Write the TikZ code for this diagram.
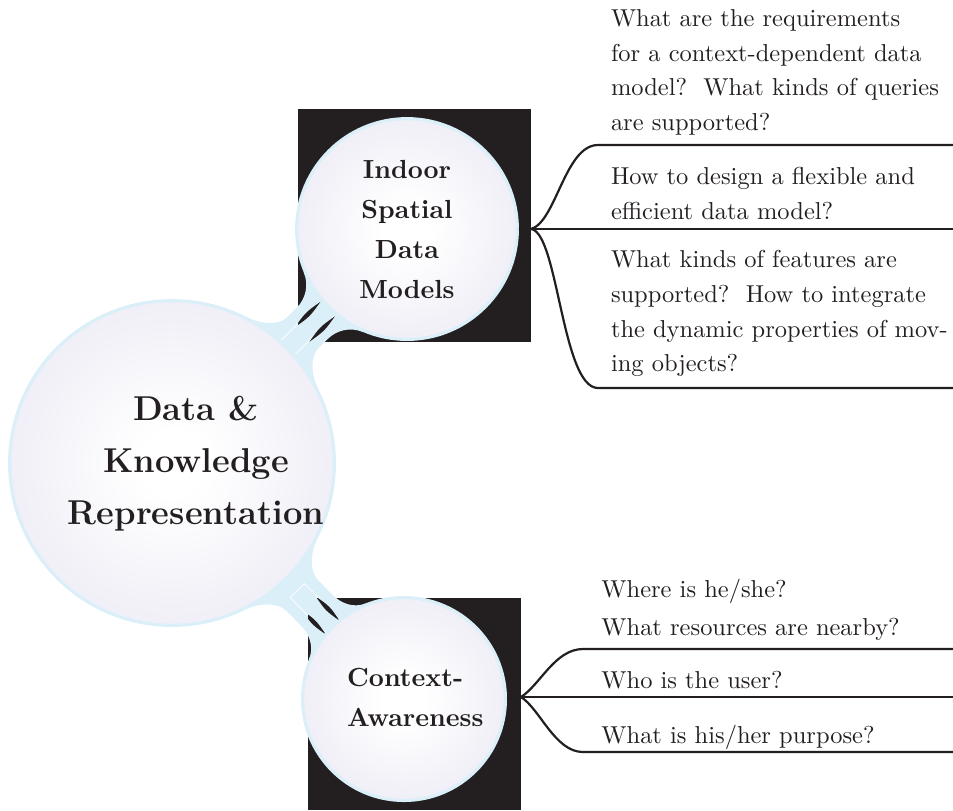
\documentclass[tikz,border=0pt]{standalone}
\definecolor{ink}{RGB}{35,31,32}
\definecolor{lav}{RGB}{226,223,239}
\definecolor{lblue}{RGB}{219,239,249}
\pgfdeclareradialshading{conceptshade}{\pgfpoint{0bp}{0bp}}{color(0bp)=(white); color(5bp)=(white); color(44bp)=(lav); color(50bp)=(lav)}
\begin{document}
\begin{tikzpicture}[x=0.4087pt,y=-0.4087pt,
  concept/.style={circle, draw=lblue, line width=1.3pt, shading=conceptshade, inner sep=0pt},
  blackbox/.style={fill=ink},
  branch/.style={draw=ink, line width=0.9pt},
  band/.style={fill=lblue},
  seam/.style={draw=white, line width=0.3pt},
  gapline/.style={fill=ink},
  qtext/.style={anchor=base west, inner sep=0pt, text=ink, font=\fontsize{10}{14.2}\selectfont},
  ctext/.style={inner sep=0pt, text=ink},
]
\useasboundingbox (0,0) rectangle (953,810);
% black boxes behind the child concepts
\fill[blackbox] (298,109) rectangle (531,342);
\fill[blackbox] (308,598) rectangle (521,810);
% centres
\coordinate (rc) at (172,463);
\coordinate (ic) at (407,229);
\coordinate (cc) at (404,699);
% connection band root -> indoor
\begin{scope}[shift={(rc)}, rotate=44.88]
  \fill[band] (156.2,-50) .. controls (160.5,-36.7) and (172,-22) .. (185,-22) -- (198,-22)
    .. controls (210,-22) and (222.5,-29) .. (227.8,-42) -- (227.8,42)
    .. controls (222.5,29) and (210,22) .. (198,22) -- (185,22)
    .. controls (172,22) and (160.5,36.7) .. (156.2,50) -- cycle;
  \draw[seam] (164,-10) -- (219,-10) (164,10) -- (219,10);
\end{scope}
% connection band root -> context
\begin{scope}[shift={(rc)}, rotate=-45.49]
  \fill[band] (156.2,-50) .. controls (160.5,-36.7) and (173,-22) .. (186,-22) -- (206,-22)
    .. controls (218,-22) and (230.7,-27.1) .. (236.1,-40) -- (236.1,40)
    .. controls (230.7,27.1) and (218,22) .. (206,22) -- (186,22)
    .. controls (173,22) and (160.5,36.7) .. (156.2,50) -- cycle;
  \draw[seam] (179,-10) -- (229,-10) -- (229,10) -- (179,10) -- cycle;
\end{scope}
% dark slivers inside the boxes
\begin{scope}
  \clip (298,109) rectangle (531,342);
  \begin{scope}[shift={(rc)}, rotate=44.88]
    \fill[gapline] (183,-9.5) .. controls (201,-12.5) .. (219,-9.5) .. controls (201,-6.5) .. (183,-9.5);
    \fill[gapline] (183,11) .. controls (201,14) .. (219,11) .. controls (201,8) .. (183,11);
  \end{scope}
\end{scope}
\begin{scope}
  \clip (308,598) rectangle (521,810);
  \begin{scope}[shift={(rc)}, rotate=-45.49]
    \fill[gapline] (196,-9) .. controls (213,-12) .. (230,-9) .. controls (213,-6) .. (196,-9);
    \fill[gapline] (196,10.5) .. controls (213,13.5) .. (230,10.5) .. controls (213,7.5) .. (196,10.5);
  \end{scope}
\end{scope}
% concepts
\node[concept, minimum size=132.7pt] (root) at (rc) {};
\node[concept, minimum size=90.2pt] (ind) at (ic) {};
\node[concept, minimum size=82.9pt] (ctx) at (cc) {};
\node[ctext, anchor=base, font=\fontsize{14.1}{21.3}\selectfont\bfseries] (roott) at (196,420.7)
  {\parbox[t]{140pt}{\centering Data \&\\ Knowledge\\ Representation}};
\node[ctext, anchor=base, font=\fontsize{10.7}{16.4}\selectfont\bfseries] (indt) at (407,178.3)
  {\parbox[t]{70pt}{\centering Indoor\\ Spatial\\ Data\\ Models}};
\node[ctext, anchor=base west, font=\fontsize{10.7}{16.6}\selectfont\bfseries] (ctxt) at (346.7,686)
  {\parbox[t]{70pt}{\raggedright Context-\\ Awareness}};
% branches of Indoor Spatial Data Models
\coordinate (jI) at (531,229);
\coordinate (t1) at (598,145); \coordinate (e1) at (953,145);
\coordinate (e2) at (953,229);
\coordinate (t3) at (598,388); \coordinate (e3) at (953,388);
\draw[branch] (ind.east) -- (jI) .. controls (556,222) and (565,145) .. (t1) -- (e1);
\draw[branch] (jI) -- (e2);
\draw[branch] (jI) .. controls (558,232) and (562,388) .. (t3) -- (e3);
\node[qtext] (q1) at (610.5,26.5) {\parbox[t]{150pt}{\raggedright What are the requirements\\ for a context-dependent data\\ model?\ \ What kinds of queries\\ are supported?}};
\node[qtext] (q2) at (610.5,184.3) {\parbox[t]{150pt}{\raggedright How to design a flexible and\\ efficient data model?}};
\node[qtext] (q3) at (610.5,267.7) {\parbox[t]{150pt}{\raggedright What kinds of features are\\ supported?\ \ How to integrate\\ the dynamic properties of mov-\\ ing objects?}};
% branches of Context-Awareness
\coordinate (jC) at (521,697);
\coordinate (u1) at (583,649); \coordinate (f1) at (953,649);
\coordinate (f2) at (953,697);
\coordinate (u3) at (583,752); \coordinate (f3) at (953,752);
\draw[branch] (ctx.east) -- (jC) .. controls (540,685) and (555,649) .. (u1) -- (f1);
\draw[branch] (jC) -- (f2);
\draw[branch] (jC) .. controls (540,709) and (555,752) .. (u3) -- (f3);
\node[qtext, font=\fontsize{10}{15.25}\selectfont] (q4) at (601,597.7) {\parbox[t]{150pt}{\raggedright Where is he/she?\\ What resources are nearby?}};
\node[qtext] (q5) at (601,688.3) {Who is the user?};
\node[qtext] (q6) at (601,743.3) {What is his/her purpose?};
\end{tikzpicture}
\end{document}
